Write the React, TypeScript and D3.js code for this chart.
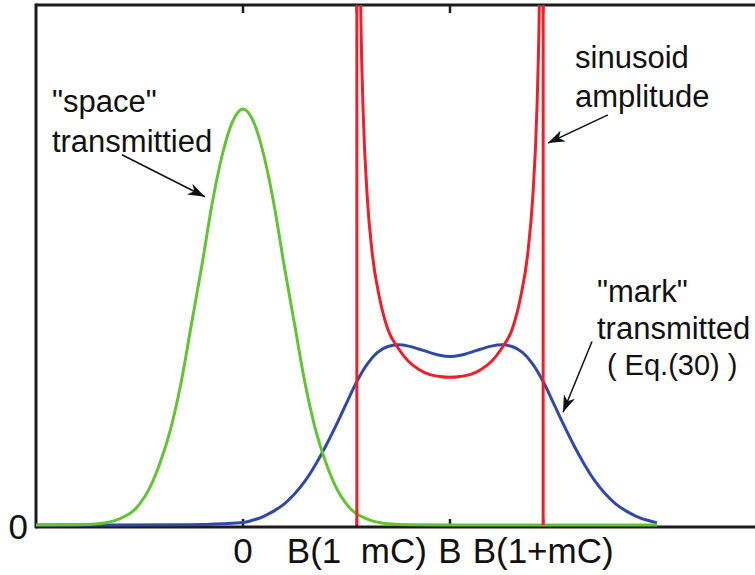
import React, { useEffect, useRef } from 'react';
import * as d3 from 'd3';

// frequency in units of B, amplitude normalised to the "space" peak
const spaceX = [-1, -0.8, -0.7, -0.6, -0.5, -0.45, -0.4, -0.35, -0.3, -0.25, -0.2, -0.15, -0.1, -0.05, 0,
  0.05, 0.1, 0.15, 0.2, 0.25, 0.3, 0.35, 0.4, 0.45, 0.5, 0.6, 0.7, 0.8, 1, 2];
const spaceY = [0, 0.0005, 0.003, 0.014, 0.05, 0.09, 0.15, 0.23, 0.34, 0.48, 0.62, 0.77, 0.89, 0.97, 1,
  0.97, 0.89, 0.77, 0.62, 0.48, 0.34, 0.23, 0.15, 0.09, 0.05, 0.014, 0.003, 0.0005, 0, 0];

const markX = [-1, -0.6, -0.3, -0.2, -0.1, 0, 0.05, 0.1, 0.15, 0.2, 0.25, 0.3, 0.35, 0.4, 0.45, 0.5,
  0.55, 0.6, 0.65, 0.7, 0.75, 0.8, 0.85, 0.9, 0.95, 1,
  1.05, 1.1, 1.15, 1.2, 1.25, 1.3, 1.35, 1.4, 1.45, 1.5, 1.55, 1.6, 1.65, 1.7, 1.75, 1.8, 1.85,
  1.9, 1.95, 2];
const markY = [0, 0, 0.0005, 0.001, 0.003, 0.006, 0.012, 0.021, 0.034, 0.051, 0.075, 0.106, 0.145, 0.19, 0.24, 0.293,
  0.345, 0.387, 0.415, 0.429, 0.433, 0.43, 0.423, 0.415, 0.408, 0.405,
  0.408, 0.415, 0.423, 0.43, 0.433, 0.429, 0.415, 0.387, 0.345, 0.293, 0.24, 0.19, 0.145, 0.106, 0.075, 0.051, 0.034,
  0.021, 0.012, 0.005];

const sineX = [0.562, 0.57, 0.58, 0.6, 0.625, 0.66, 0.7, 0.75, 0.8, 0.85, 0.9, 0.95, 1,
  1.05, 1.1, 1.15, 1.2, 1.25, 1.3, 1.34, 1.375, 1.4, 1.42, 1.43, 1.438];
const sineY = [1.5, 1.2, 1.0, 0.79, 0.65, 0.545, 0.47, 0.425, 0.393, 0.374, 0.362, 0.357, 0.355,
  0.357, 0.362, 0.374, 0.393, 0.425, 0.47, 0.545, 0.65, 0.79, 1.0, 1.2, 1.5];

// B(1-mC) and B(1+mC)
const sineEdges = [0.55, 1.45];

const tickValues = [0, 0.55, 1, 1.45];
const tickLabels = ['0', 'B(1  mC)', 'B', 'B(1+mC)'];

const noteText = [['"space"', 'transmittied'], ['sinusoid', 'amplitude'], ['"mark"', 'transmitted', '( Eq.(30) )']];
const noteX = [[-0.923, -0.923], [1.604, 1.604], [1.71, 1.71, 1.758]];
const noteY = [[0.993, 0.897], [1.098, 1.005], [0.537, 0.446, 0.36]];
const noteSize = [[31, 31], [31, 31], [31, 31, 29]];

// arrows: [x0, y0, x1, y1]
const arrows = [
  [-0.585, 0.89, -0.184, 0.789],
  [1.763, 0.986, 1.473, 0.918],
  [1.686, 0.441, 1.546, 0.271],
];

const GREEN = '#62c335';
const BLUE = '#3149a6';
const RED = '#ee1f2a';
const FONT = '"Liberation Sans", Arial, Helvetica, sans-serif';

const App = () => {
  const ref = useRef<SVGSVGElement>(null);

  useEffect(() => {
    const width = 755;
    const height = 575;
    const svg = d3.select(ref.current);
    svg.selectAll('*').remove();

    const x = d3.scaleLinear().domain([-1, 2.5]).range([36, 760.5]);
    const y = d3.scaleLinear().domain([0, 1.25]).range([525, 5]);
    const [x0, x1] = x.range();
    const [yb, yt] = y.range();

    svg.append('defs').append('clipPath').attr('id', 'plot')
      .append('rect').attr('x', x0).attr('y', yt).attr('width', x1 - x0).attr('height', yb - yt + 4);

    svg.select('defs').append('marker')
      .attr('id', 'head')
      .attr('markerUnits', 'userSpaceOnUse')
      .attr('markerWidth', 18).attr('markerHeight', 12)
      .attr('refX', 17).attr('refY', 6)
      .attr('orient', 'auto')
      .append('path').attr('d', 'M0,0 L17,6 L0,12 L5,6 Z').attr('fill', '#111');

    // axes box
    const box = svg.append('g').attr('stroke', '#1c1c1c').attr('stroke-width', 3).attr('fill', 'none');
    box.append('line').attr('x1', x0).attr('x2', width + 10).attr('y1', yt).attr('y2', yt);
    box.append('line').attr('x1', x0).attr('x2', width + 10).attr('y1', yb + 2).attr('y2', yb + 2);
    box.append('line').attr('x1', x0).attr('x2', x0).attr('y1', yt - 1.5).attr('y2', yb + 3.5);

    const ticks = svg.append('g').attr('stroke', '#1c1c1c').attr('stroke-width', 2.5);
    tickValues.forEach((t) => {
      ticks.append('line').attr('x1', x(t)).attr('x2', x(t)).attr('y1', yb + 1).attr('y2', yb - 6);
      ticks.append('line').attr('x1', x(t)).attr('x2', x(t)).attr('y1', yt + 1).attr('y2', yt + 8);
    });

    svg.append('g').selectAll('text').data(tickValues).enter().append('text')
      .attr('x', (d) => x(d)).attr('y', 563)
      .attr('text-anchor', 'middle')
      .attr('font-family', FONT).attr('font-size', 35).attr('fill', '#111')
      .style('white-space', 'pre')
      .text((d, i) => tickLabels[i]);

    svg.append('text').attr('x', 28).attr('y', yb + 14)
      .attr('text-anchor', 'end')
      .attr('font-family', FONT).attr('font-size', 35).attr('fill', '#111')
      .text('0');

    const plot = svg.append('g').attr('clip-path', 'url(#plot)').attr('fill', 'none');
    const line = d3.line<number>().curve(d3.curveMonotoneX);

    plot.append('path')
      .attr('d', line.x((d) => x(d)).y((d, i) => y(markY[i]))(markX))
      .attr('stroke', BLUE).attr('stroke-width', 3);

    plot.append('path')
      .attr('d', line.x((d) => x(d)).y((d, i) => y(spaceY[i]))(spaceX))
      .attr('stroke', GREEN).attr('stroke-width', 3);

    plot.append('path')
      .attr('d', line.x((d) => x(d)).y((d, i) => y(sineY[i]))(sineX))
      .attr('stroke', RED).attr('stroke-width', 3);

    plot.selectAll('line.edge').data(sineEdges).enter().append('line')
      .attr('class', 'edge')
      .attr('x1', (d) => x(d)).attr('x2', (d) => x(d))
      .attr('y1', y(0)).attr('y2', yt)
      .attr('stroke', RED).attr('stroke-width', 3);

    // annotations
    noteText.forEach((lines, k) => {
      lines.forEach((s, j) => {
        svg.append('text')
          .attr('x', x(noteX[k][j])).attr('y', y(noteY[k][j]))
          .attr('font-family', FONT).attr('font-size', noteSize[k][j]).attr('fill', '#111')
          .text(s);
      });
    });

    svg.append('g').selectAll('line').data(arrows).enter().append('line')
      .attr('x1', (d) => x(d[0])).attr('y1', (d) => y(d[1]))
      .attr('x2', (d) => x(d[2])).attr('y2', (d) => y(d[3]))
      .attr('stroke', '#111').attr('stroke-width', 1.5)
      .attr('marker-end', 'url(#head)');

    svg.attr('width', width).attr('height', height);
  }, []);

  return <svg ref={ref} width={755} height={575} style={{ position: 'absolute', left: 0, top: 0, background: '#fff' }}></svg>;
};

export default App;
